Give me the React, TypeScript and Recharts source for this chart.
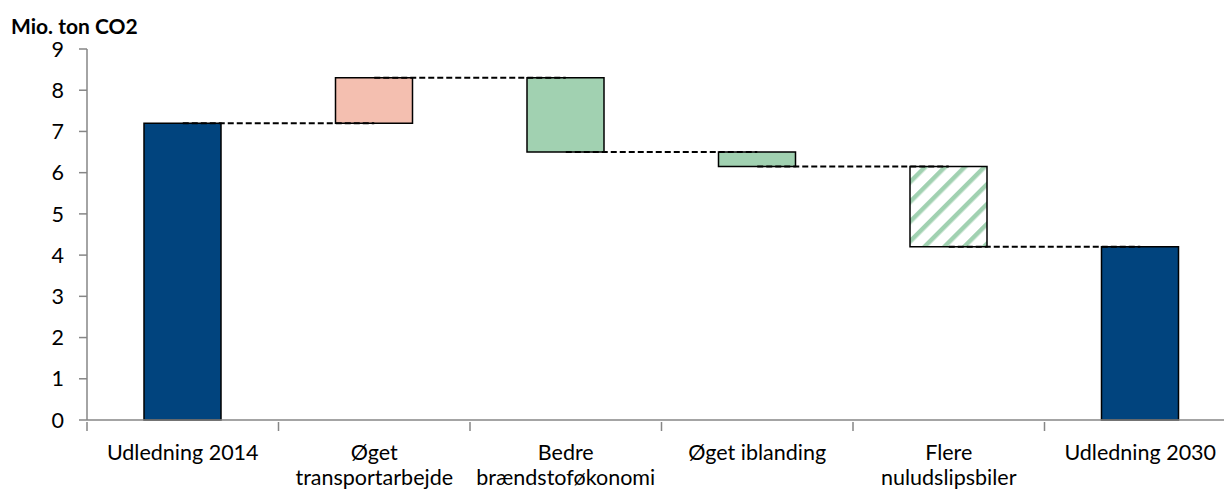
import { ComposedChart, Bar, XAxis, YAxis, ReferenceLine, Cell } from "recharts";

const categories = [
  "Udledning 2014",
  "Øget\ntransportarbejde",
  "Bedre\nbrændstoføkonomi",
  "Øget iblanding",
  "Flere\nnuludslipsbiler",
  "Udledning 2030",
];
// total bars are absolute values, the rest are changes
const kinds = ["total", "delta", "delta", "delta", "delta", "total"];
const values = [7.2, 1.1, -1.8, -0.35, -1.95, 4.2];
const yTicks = [0, 1, 2, 3, 4, 5, 6, 7, 8, 9];

const NAVY = "#01447e";
const PINK = "#f4bfb0";
const GREEN = "#a1d1b1";
const AXIS = "#868686";

// the original plot runs a little past the right edge of the picture
const W = 1224;
const CW = 1236;
const H = 490;
const LEFT = 87;
const BAND = (CW - LEFT) / categories.length;

let level = 0;
const chartData = categories.map((name, i) => {
  const v = values[i];
  let start = 0;
  let end = v;
  if (kinds[i] === "delta") {
    start = level;
    end = level + v;
  }
  level = end;
  return { name, base: Math.min(start, end), size: Math.abs(end - start), end, v };
});

const fillFor = (i: number) => {
  if (kinds[i] === "total") return NAVY;
  if (i === 4) return "url(#hatch)";
  return values[i] > 0 ? PINK : GREEN;
};

function CatTick(props: any) {
  const { x, y, payload } = props;
  const lines = String(payload.value).split("\n");
  const left = x - BAND / 2;
  return (
    <g>
      <line x1={left} x2={left} y1={y - 8} y2={y + 1} stroke={AXIS} strokeWidth={1.5} />
      <text textAnchor="middle" fontFamily="Lato" fontSize={21.5} fill="#000">
        {lines.map((l, k) => (
          <tspan key={k} x={x} y={y + 30 + k * 25}>
            {l}
          </tspan>
        ))}
      </text>
    </g>
  );
}

export default function App() {
  return (
    <div style={{ position: "absolute", left: 0, top: 0, width: W, height: H, background: "#fff", overflow: "hidden" }}>
      <div
        style={{
          position: "absolute",
          left: 11,
          top: 13,
          fontFamily: "Lato",
          fontWeight: 700,
          fontSize: 21,
          color: "#000",
        }}
      >
        Mio. ton CO2
      </div>
      <ComposedChart
        width={CW}
        height={H}
        data={chartData}
        margin={{ top: 49, right: 0, left: 0, bottom: 0 }}
        barCategoryGap={0}
      >
        <defs>
          <pattern id="hatch" patternUnits="userSpaceOnUse" width="14" height="14" patternTransform="rotate(45)">
            <rect width="14" height="14" fill="#fff" />
            <rect width="4.5" height="14" fill={GREEN} />
          </pattern>
        </defs>
        <XAxis
          dataKey="name"
          height={70}
          interval={0}
          tickLine={false}
          tickSize={8}
          axisLine={{ stroke: AXIS, strokeWidth: 1.5 }}
          tick={<CatTick />}
        />
        <YAxis
          width={LEFT}
          domain={[0, 9]}
          ticks={yTicks}
          interval={0}
          tickSize={8}
          tickMargin={15}
          axisLine={{ stroke: AXIS, strokeWidth: 1.5 }}
          tickLine={{ stroke: AXIS, strokeWidth: 1.5 }}
          tick={{ fontFamily: "Lato", fontSize: 21.5, fill: "#000" }}
        />
        <Bar dataKey="base" stackId="w" fill="transparent" barSize={77} isAnimationActive={false} />
        <Bar dataKey="size" stackId="w" barSize={77} stroke="#000" strokeWidth={1.5} isAnimationActive={false}>
          {chartData.map((d, i) => (
            <Cell key={d.name} fill={fillFor(i)} />
          ))}
        </Bar>
        {chartData.slice(0, -1).map((d, i) => (
          <ReferenceLine
            key={d.name}
            segment={[
              { x: d.name, y: d.end },
              { x: chartData[i + 1].name, y: d.end },
            ]}
            stroke="#000"
            strokeWidth={2}
            strokeDasharray="6 3"
          />
        ))}
      </ComposedChart>
    </div>
  );
}
